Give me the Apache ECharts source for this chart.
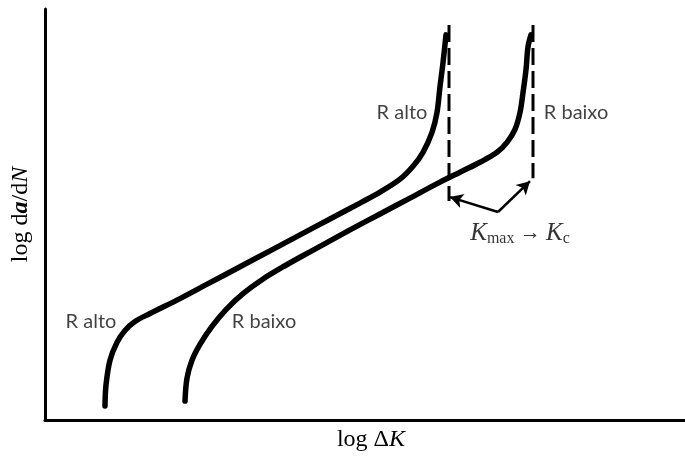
<!DOCTYPE html>
<html>
<head>
<meta charset="utf-8">
<script src="https://cdn.jsdelivr.net/npm/echarts@6/dist/echarts.min.js"></script>
<style>html,body{margin:0;padding:0;background:#fff;}#c{width:685px;height:457px;}</style>
</head>
<body>
<div id="c"></div>
<script>
// Schematic units (arbitrary)
var rAltoX = [60, 61, 65, 72, 80, 90, 105, 135, 165, 195, 225, 255, 285, 315, 335, 355, 368, 378, 387, 392, 395, 398, 401];
var rAltoY = [14, 35, 60, 78, 90, 99, 107, 122, 138, 154, 170, 186, 202, 218, 229, 242, 255, 269, 289, 309, 335, 359, 387];
var rBaixoX = [140, 142, 147, 155, 167, 181, 198, 217, 240, 265, 285, 305, 335, 365, 395, 415, 435, 452, 462, 470, 475, 478, 481, 483, 486];
var rBaixoY = [19, 42, 60, 76, 94, 111, 127, 141, 155, 169, 180, 191, 207, 223, 239, 249, 259, 269, 279, 292, 309, 329, 352, 375, 387];
var kcAltoX = [404, 404];
var kcAltoY = [397, 220];
var kcBaixoX = [488, 488];
var kcBaixoY = [397, 243];
var arrowFrom = [453, 209];
var arrowToAlto = [405, 224];
var arrowToBaixo = [485, 240];
var labelText = ['R alto', 'R baixo', 'R alto', 'R baixo'];
var labelX = [46, 219, 357, 531];
var labelY = [99, 99, 309, 309];
var kLabelPos = [475, 187];

function zip(xs, ys) { return xs.map(function (x, i) { return [x, ys[i]]; }); }

var chart = echarts.init(document.getElementById('c'), null, { renderer: 'canvas' });
var serif = "'Liberation Serif', 'DejaVu Serif', serif";
var curveStyle = { color: '#000', width: 5.5, cap: 'round', join: 'round' };
var dashStyle = { color: '#000', width: 3, type: [17, 6] };

chart.setOption({
  animation: false,
  backgroundColor: '#fff',
  grid: { left: 45, right: 0, top: 9, bottom: 35 },
  xAxis: {
    type: 'value', min: 0, max: 640,
    axisLine: { show: true, onZero: false, lineStyle: { color: '#000', width: 3 } },
    axisTick: { show: false }, axisLabel: { show: false }, splitLine: { show: false },
    name: '{n|log Δ}{i|K}',
    nameLocation: 'middle', nameGap: 8,
    nameTextStyle: {
      padding: [0, 0, 0, 12],
      rich: {
        n: { fontFamily: serif, fontSize: 24, color: '#000' },
        i: { fontFamily: serif, fontSize: 24, fontStyle: 'italic', color: '#000' }
      }
    }
  },
  yAxis: {
    type: 'value', min: 0, max: 413,
    axisLine: { show: true, onZero: false, lineStyle: { color: '#000', width: 3 } },
    axisTick: { show: false }, axisLabel: { show: false }, splitLine: { show: false },
    name: '{n|log d}{a|a}{n|/d}{i|N}',
    nameLocation: 'middle', nameGap: 12, nameRotate: 90,
    nameTextStyle: {
      rich: {
        n: { fontFamily: serif, fontSize: 24, color: '#000' },
        a: { fontFamily: serif, fontSize: 24, fontStyle: 'italic', fontWeight: 'bold', color: '#000' },
        i: { fontFamily: serif, fontSize: 24, fontStyle: 'italic', color: '#000' }
      }
    }
  },
  series: [
    { type: 'line', data: zip(rAltoX, rAltoY), smooth: 0.35, showSymbol: false, lineStyle: curveStyle, silent: true },
    { type: 'line', data: zip(rBaixoX, rBaixoY), smooth: 0.35, showSymbol: false, lineStyle: curveStyle, silent: true },
    { type: 'line', data: zip(kcAltoX, kcAltoY), showSymbol: false, lineStyle: dashStyle, silent: true },
    { type: 'line', data: zip(kcBaixoX, kcBaixoY), showSymbol: false, lineStyle: dashStyle, silent: true,
      markLine: {
        silent: true, symbol: ['none', 'arrow'], symbolSize: [11, 13],
        label: { show: false },
        lineStyle: { color: '#000', width: 2.5, type: 'solid' },
        data: [
          [{ coord: arrowFrom }, { coord: arrowToAlto }],
          [{ coord: arrowFrom }, { coord: arrowToBaixo }]
        ]
      }
    },
    {
      type: 'scatter', symbolSize: 0, silent: true,
      data: labelText.map(function (t, i) { return [labelX[i], labelY[i], t]; }),
      label: {
        show: true, position: 'inside',
        formatter: function (p) { return p.value[2]; },
        fontFamily: 'Lato', fontSize: 20, color: '#111'
      }
    },
    {
      type: 'scatter', symbolSize: 0, silent: true,
      data: [kLabelPos],
      label: {
        show: true, position: 'inside',
        formatter: '{k|K}{s|max}{n| → }{k|K}{s|c}',
        rich: {
          k: { fontFamily: serif, fontSize: 25, fontStyle: 'italic', color: '#000', lineHeight: 26 },
          s: { fontFamily: serif, fontSize: 16, color: '#000', verticalAlign: 'bottom', lineHeight: 16 },
          n: { fontFamily: serif, fontSize: 21, color: '#000', lineHeight: 26 }
        }
      }
    }
  ]
});
</script>
</body>
</html>
